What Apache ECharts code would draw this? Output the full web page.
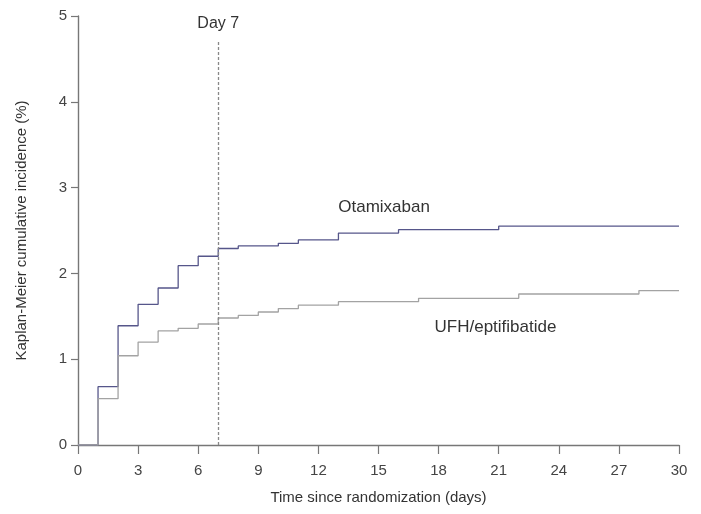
<!DOCTYPE html>
<html>
<head>
<meta charset="utf-8">
<script src="https://cdn.jsdelivr.net/npm/echarts@6/dist/echarts.min.js"></script>
<style>
  html, body { margin: 0; padding: 0; background: #fff; }
  #chart { width: 701px; height: 514px; }
</style>
</head>
<body>
<div id="chart"></div>
<script>
// 数据：Kaplan-Meier 累计发生率 (%)
const otaDays = [0, 1, 2, 3, 4, 5, 6, 7, 8, 10, 11, 13, 16, 21, 30];
const otaPct = [0, 0.68, 1.39, 1.64, 1.83, 2.09, 2.20, 2.29, 2.32, 2.35, 2.39, 2.47, 2.51, 2.55, 2.55];
const ufhDays = [0, 1, 2, 3, 4, 5, 6, 7, 8, 9, 10, 11, 13, 17, 22, 28, 30];
const ufhPct = [0, 0.54, 1.04, 1.20, 1.33, 1.36, 1.41, 1.48, 1.51, 1.55, 1.59, 1.63, 1.67, 1.71, 1.76, 1.80, 1.80];
const xTicks = [0, 3, 6, 9, 12, 15, 18, 21, 24, 27, 30];
const yTicks = [0, 1, 2, 3, 4, 5];
const seriesNames = ['Otamixaban', 'UFH/eptifibatide'];
const dayMark = 7;

const font = 'Liberation Sans, Arial, sans-serif';
const chartInstance = echarts.init(document.getElementById('chart'));

const option = {
  animation: false,
  textStyle: { fontFamily: font },
  grid: { left: 78, right: 22, top: 16, bottom: 69 },
  xAxis: {
    type: 'value',
    min: xTicks[0],
    max: xTicks[xTicks.length - 1],
    interval: xTicks[1] - xTicks[0],
    name: 'Time since randomization (days)',
    nameLocation: 'middle',
    nameGap: 45,
    nameTextStyle: { fontSize: 15, color: '#333' },
    axisLine: { lineStyle: { color: '#777', width: 1.4 } },
    axisTick: { length: 9, lineStyle: { color: '#777', width: 1.2 } },
    axisLabel: { fontSize: 15, color: '#444', margin: 18 },
    splitLine: { show: false }
  },
  yAxis: {
    type: 'value',
    min: yTicks[0],
    max: yTicks[yTicks.length - 1],
    interval: yTicks[1] - yTicks[0],
    name: 'Kaplan-Meier cumulative incidence (%)',
    nameLocation: 'middle',
    nameGap: 49,
    nameTextStyle: { fontSize: 15, color: '#333' },
    axisLine: { show: true, lineStyle: { color: '#777', width: 1.4 } },
    axisTick: { show: true, length: 7, lineStyle: { color: '#777', width: 1.2 } },
    axisLabel: { fontSize: 15, color: '#444', margin: 11 },
    splitLine: { show: false }
  },
  series: [
    {
      name: seriesNames[0],
      type: 'line',
      step: 'end',
      symbol: 'none',
      data: otaDays.map((d, i) => [d, otaPct[i]]),
      lineStyle: { color: '#56568a', width: 1.3 },
      markPoint: {
        symbolSize: 0,
        label: { show: true, formatter: '{b}', fontSize: 17, color: '#333', fontFamily: font },
        data: [{ name: seriesNames[0], coord: [15.28, 2.77] }]
      },
      markLine: {
        symbol: 'none',
        silent: true,
        lineStyle: { color: '#888', type: [3, 2], width: 1.3 },
        label: { show: true, position: 'end', formatter: 'Day ' + dayMark, fontSize: 16, color: '#333', fontFamily: font, distance: 8 },
        data: [[{ coord: [dayMark, 0] }, { coord: [dayMark, 4.72] }]]
      }
    },
    {
      name: seriesNames[1],
      type: 'line',
      step: 'end',
      symbol: 'none',
      data: ufhDays.map((d, i) => [d, ufhPct[i]]),
      lineStyle: { color: '#a3a3a3', width: 1.3 },
      markPoint: {
        symbolSize: 0,
        label: { show: true, formatter: '{b}', fontSize: 17, color: '#333', fontFamily: font },
        data: [{ name: seriesNames[1], coord: [20.84, 1.375] }]
      }
    }
  ]
};

chartInstance.setOption(option);
window.addEventListener('resize', () => chartInstance.resize());
</script>
</body>
</html>
